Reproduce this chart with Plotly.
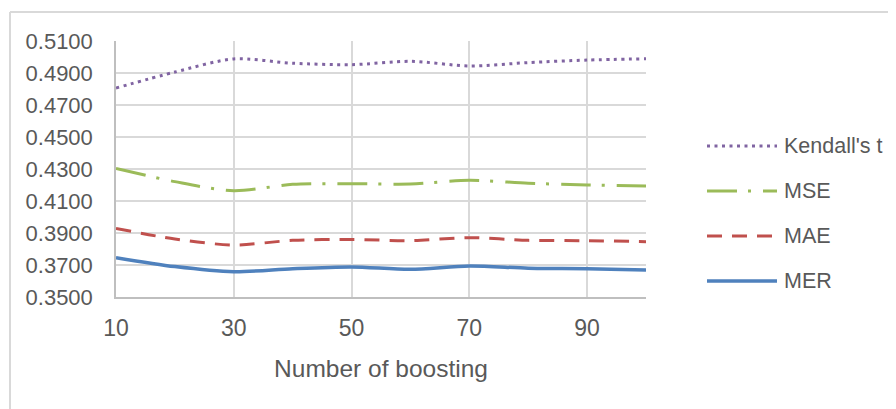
import plotly.graph_objects as go

boosting = [10, 20, 30, 40, 50, 60, 70, 80, 90, 100]
kendall = [0.4806, 0.4906, 0.4988, 0.4961, 0.4952, 0.4973, 0.4944, 0.4965, 0.4981, 0.4989]
mse = [0.4304, 0.4221, 0.4164, 0.4204, 0.4208, 0.4206, 0.4229, 0.4211, 0.4200, 0.4194]
mae = [0.3929, 0.3862, 0.3825, 0.3854, 0.3860, 0.3852, 0.3871, 0.3854, 0.3852, 0.3846]
mer = [0.3746, 0.3690, 0.3658, 0.3677, 0.3688, 0.3673, 0.3694, 0.3680, 0.3677, 0.3669]

series_names = ["Kendall's t", "MSE", "MAE", "MER"]
series_values = [kendall, mse, mae, mer]
series_colors = ["#8064A2", "#9BBB59", "#C0504D", "#4F81BD"]
series_dash = ["3px,4.5px", "30px,11px,3px,12px", "15px,10px", "solid"]
series_width = [3, 3, 3, 3.5]

x_ticks = [10, 30, 50, 70, 90]
y_ticks = [0.35, 0.37, 0.39, 0.41, 0.43, 0.45, 0.47, 0.49, 0.51]

# page has an 8px body margin; work in page pixels and shift
OFF = 8
W, H = 896 - OFF, 409 - OFF
L, T = 116 - OFF, 41 - OFF
PR, PB = 646 - OFF, 297 - OFF
R, B = W - PR, H - PB
pw, ph = PR - L, PB - T

def px_x(px):
    return (px - OFF - L) / pw

def px_y(py):
    return (PB - (py - OFF)) / ph

FONT = "Liberation Sans, Arial, sans-serif"
GREY = "#595959"

fig = go.Figure()
for name, vals, col, dash, wd in zip(series_names, series_values, series_colors, series_dash, series_width):
    fig.add_trace(go.Scatter(
        x=boosting, y=vals, mode="lines", name=name,
        line=dict(color=col, dash=dash, width=wd, shape="spline", smoothing=0.8),
        showlegend=False,
    ))

shapes = [
    dict(type="line", xref="paper", yref="paper", x0=px_x(10), x1=px_x(910), y0=px_y(12), y1=px_y(12),
         line=dict(color="#d9d9d9", width=2)),
    dict(type="line", xref="paper", yref="paper", x0=px_x(10), x1=px_x(10), y0=px_y(12), y1=px_y(420),
         line=dict(color="#d9d9d9", width=2)),
]
annotations = []
legend_rows = [146, 191, 236, 281]
for name, col, dash, wd, ry in zip(series_names, series_colors, series_dash, series_width, legend_rows):
    shapes.append(dict(type="line", xref="paper", yref="paper", x0=px_x(707), x1=px_x(777),
                       y0=px_y(ry), y1=px_y(ry), line=dict(color=col, dash=dash, width=wd)))
    annotations.append(dict(xref="paper", yref="paper", x=px_x(782), y=px_y(ry), text=name,
                            showarrow=False, xanchor="left", yanchor="middle",
                            font=dict(family=FONT, size=21.5, color=GREY)))

fig.update_layout(
    width=W, height=H,
    margin=dict(l=L, r=R, t=T, b=B),
    paper_bgcolor="white", plot_bgcolor="white",
    shapes=shapes, annotations=annotations,
    xaxis=dict(range=[10, 100], tickvals=x_ticks, ticktext=[str(v) for v in x_ticks],
               showgrid=True, gridcolor="#d9d9d9", gridwidth=1.5,
               showline=True, linecolor="#bfbfbf", linewidth=1.5,
               ticks="", ticklabelstandoff=10,
               tickfont=dict(family=FONT, size=23, color=GREY),
               title=dict(text="Number of boosting", standoff=20,
                          font=dict(family=FONT, size=24.5, color=GREY)),
               zeroline=False),
    yaxis=dict(range=[0.35, 0.51], tickvals=y_ticks, tickformat=".4f",
               showgrid=True, gridcolor="#d9d9d9", gridwidth=1.5,
               showline=True, linecolor="#bfbfbf", linewidth=1.5,
               ticks="", ticklabelstandoff=17,
               tickfont=dict(family=FONT, size=22, color=GREY),
               zeroline=False),
)

fig.write_html("out.html")
